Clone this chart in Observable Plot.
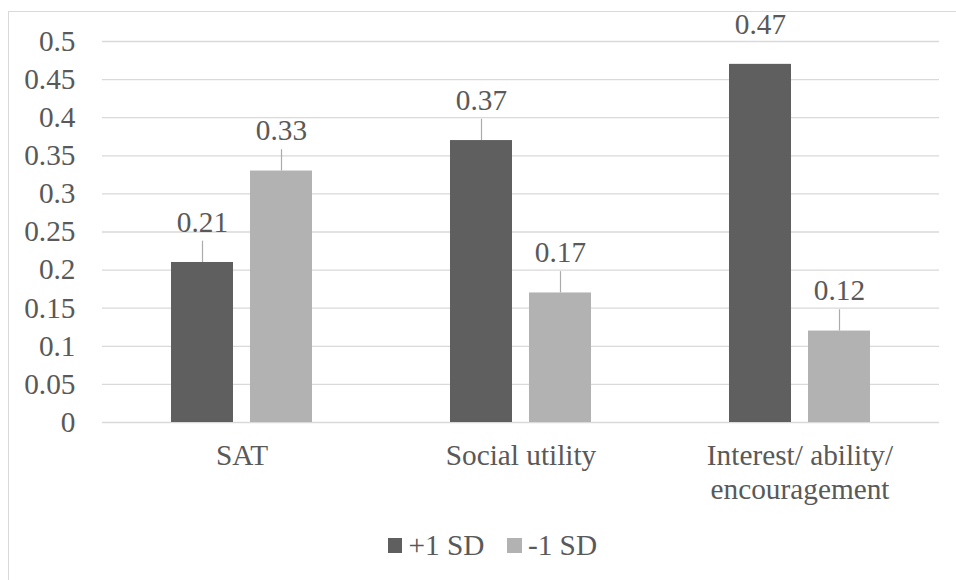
<!DOCTYPE html>
<html>
<head>
<meta charset="utf-8">
<script src="https://cdn.jsdelivr.net/npm/d3@7"></script>
<script src="https://cdn.jsdelivr.net/npm/@observablehq/plot@0.6"></script>
<style>
  html, body { margin: 0; padding: 0; background: #fff; }
  #wrap { position: relative; width: 956px; height: 580px; overflow: hidden; font-family: 'Liberation Serif'; }
  #chart { position: absolute; left: 0; top: 0; }
  #frame { position: absolute; left: 8px; top: 11px; width: 1200px; height: 1200px; border: 1px solid #d9d9d9; pointer-events: none; }
  #legend { position: absolute; left: 0; top: 529px; width: 985px; display: flex; justify-content: center; align-items: center; font-size: 29.3px; color: #595959; font-family: 'Liberation Serif'; }
  .item { display: flex; align-items: center; }
  .sw { width: 14.5px; height: 14.5px; margin-right: 6px; }
  .item + .item { margin-left: 23px; }
</style>
</head>
<body>
<div id="wrap">
  <div id="chart"></div>
  <div id="legend"></div>
  <div id="frame"></div>
</div>
<script>
const categories = ["SAT", "Social utility", "Interest/ ability/ encouragement"];
const categoryLabels = ["SAT", "Social utility", "Interest/ ability/\nencouragement"];
const series = ["+1 SD", "-1 SD"];
const plusOneSD = [0.21, 0.37, 0.47];
const minusOneSD = [0.33, 0.17, 0.12];
const yTicks = [0, 0.05, 0.1, 0.15, 0.2, 0.25, 0.3, 0.35, 0.4, 0.45, 0.5];
const colors = ["#5f5f5f", "#b2b2b2"];

const FONT = "Liberation Serif";
const FS = 29.3;
const data = [];
categories.forEach((c, i) => {
  data.push({category: c, series: series[0], value: plusOneSD[i]});
  data.push({category: c, series: series[1], value: minusOneSD[i]});
});
const yMax = yTicks[yTicks.length - 1];
const leaderData = data.filter(d => d.value + 0.05 < yMax);
const labelOf = new Map(categories.map((c, i) => [c, categoryLabels[i]]));

const chart = Plot.plot({
  width: 956,
  height: 510,
  marginLeft: 102,
  marginRight: 17,
  marginTop: 41,
  marginBottom: 88,
  style: {fontFamily: FONT, fontSize: FS + "px", color: "#595959", background: "transparent", overflow: "visible"},
  fx: {domain: categories, paddingInner: 0, paddingOuter: 0, label: null},
  x: {domain: series, paddingInner: 0.215, paddingOuter: 0.873, axis: null},
  y: {domain: [0, yMax], label: null},
  color: {domain: series, range: colors},
  marks: [
    Plot.gridY(yTicks, {stroke: "#d9d9d9", strokeOpacity: 1, strokeWidth: 1.3}),
    Plot.axisY(yTicks, {tickSize: 0, tickPadding: 27, tickFormat: d => String(+d.toFixed(2)), label: null, fontSize: FS, fontFamily: FONT, fill: "#595959"}),
    Plot.axisFx({anchor: "bottom", tickSize: 0, tickPadding: 19, label: null, fontSize: FS, fontFamily: FONT, lineHeight: 1.14, fill: "#595959", tickFormat: d => labelOf.get(d)}),
    Plot.barY(data, {fx: "category", x: "series", y: "value", fill: "series"}),
    Plot.ruleX(leaderData, {fx: "category", x: "series", y1: "value", y2: d => d.value + 0.028, stroke: "#ababab", strokeWidth: 1.2}),
    Plot.text(data, {fx: "category", x: "series", y: "value", text: d => d.value.toFixed(2), dy: -40, fontSize: FS, fontFamily: FONT, fill: "#595959", lineAnchor: "middle"})
  ]
});
document.getElementById("chart").appendChild(chart);

const legend = document.getElementById("legend");
series.forEach((s, i) => {
  const item = document.createElement("div");
  item.className = "item";
  const sw = document.createElement("span");
  sw.className = "sw";
  sw.style.background = colors[i];
  const t = document.createElement("span");
  t.textContent = s;
  item.appendChild(sw);
  item.appendChild(t);
  legend.appendChild(item);
});
</script>
</body>
</html>
